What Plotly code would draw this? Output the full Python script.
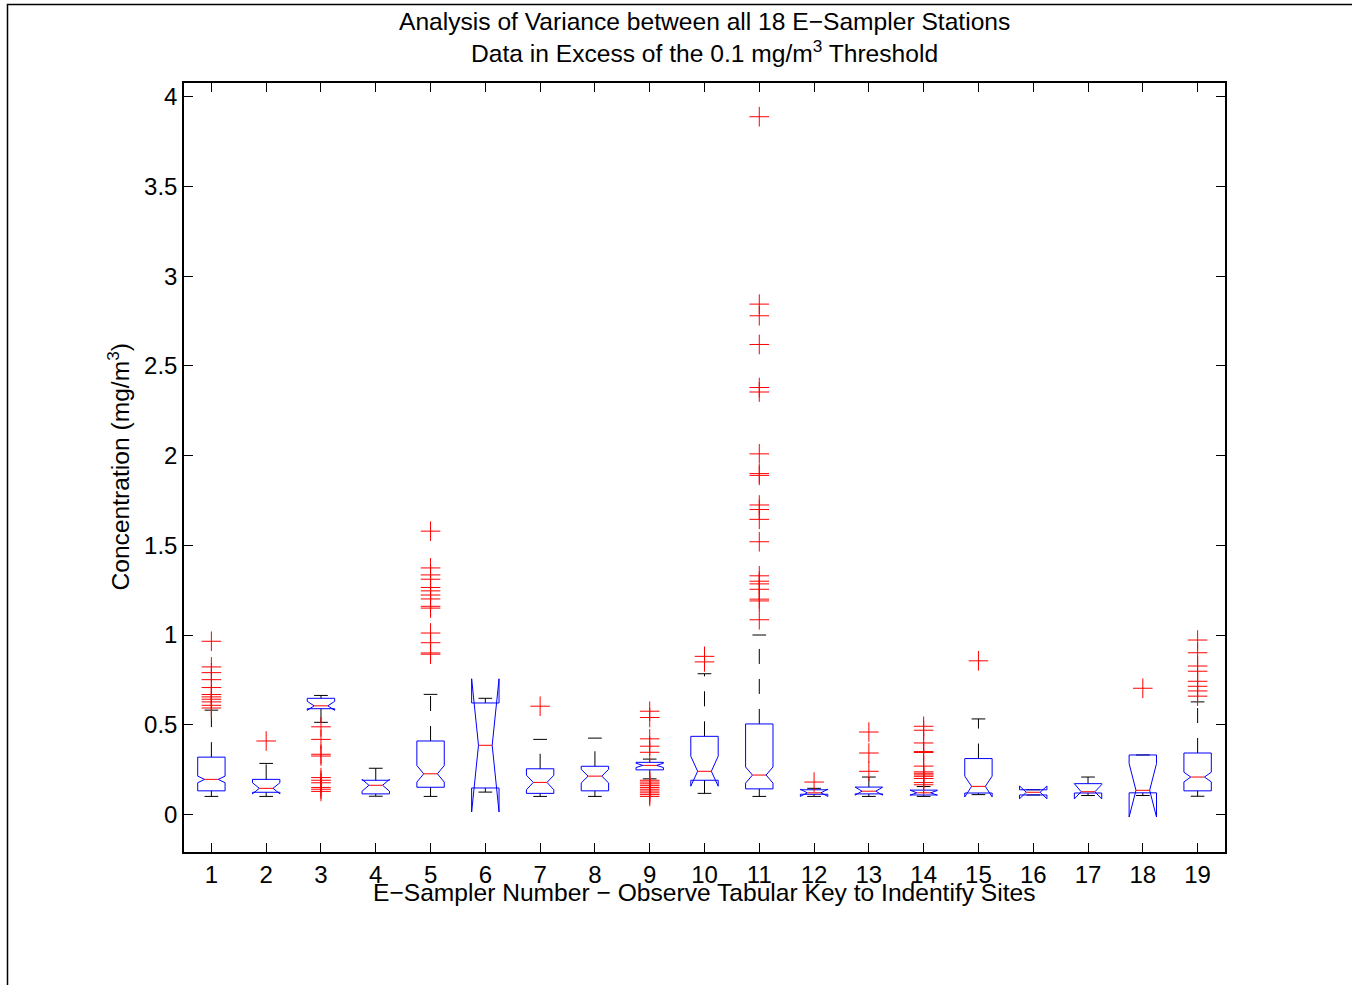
import plotly.graph_objects as go

# ---- Data: notched box-plot statistics per E-Sampler station (mg/m^3) ----
stations = list(range(1, 20))
q1 = [0.131, 0.123, 0.589, 0.114, 0.151, 0.147, 0.117, 0.131, 0.248, 0.190,
      0.142, 0.112, 0.114, 0.108, 0.119, 0.108, 0.119, 0.120, 0.131]
median = [0.195, 0.145, 0.605, 0.162, 0.226, 0.385, 0.178, 0.213, 0.273, 0.240,
          0.219, 0.120, 0.129, 0.120, 0.156, 0.123, 0.126, 0.134, 0.208]
q3 = [0.319, 0.195, 0.647, 0.190, 0.409, 0.621, 0.254, 0.268, 0.290, 0.435,
      0.504, 0.137, 0.152, 0.135, 0.311, 0.137, 0.171, 0.331, 0.342]
notch_lo = [0.176, 0.114, 0.580, 0.129, 0.180, 0.013, 0.137, 0.175, 0.261, 0.157,
            0.174, 0.100, 0.107, 0.107, 0.097, 0.087, 0.086, -0.015, 0.181]
notch_hi = [0.213, 0.176, 0.630, 0.195, 0.272, 0.756, 0.218, 0.251, 0.285, 0.324,
            0.264, 0.140, 0.151, 0.133, 0.213, 0.158, 0.166, 0.283, 0.235]
whisker_lo = [0.100, 0.100, 0.513, 0.101, 0.100, 0.124, 0.100, 0.100, 0.198, 0.117,
              0.100, 0.100, 0.100, 0.100, 0.110, 0.108, 0.105, 0.105, 0.101]
whisker_hi = [0.581, 0.284, 0.663, 0.257, 0.669, 0.647, 0.418, 0.425, 0.308, 0.784,
              1.000, 0.145, 0.208, 0.155, 0.532, 0.137, 0.208, 0.331, 0.627]
outliers_1 = [0.965, 0.822, 0.790, 0.751, 0.707, 0.668, 0.655, 0.642, 0.627, 0.608, 0.593]
outliers_2 = [0.409]
outliers_3 = [0.488, 0.418, 0.335, 0.325, 0.205, 0.190, 0.176, 0.150, 0.140, 0.128]
outliers_4 = []
outliers_5 = [1.579, 1.374, 1.335, 1.311, 1.265, 1.246, 1.223, 1.201, 1.160, 1.150,
              1.011, 0.957, 0.900, 0.893]
outliers_6 = []
outliers_7 = [0.603]
outliers_8 = []
outliers_9 = [0.575, 0.540, 0.421, 0.380, 0.346, 0.190, 0.180, 0.170, 0.160, 0.150,
              0.140, 0.130, 0.120, 0.110, 0.100]
outliers_10 = [0.881, 0.850]
outliers_11 = [3.890, 2.845, 2.780, 2.620, 2.380, 2.355, 2.010, 1.900, 1.890, 1.725,
               1.700, 1.645, 1.520, 1.330, 1.300, 1.285, 1.255, 1.200, 1.190, 1.085]
outliers_12 = [0.180]
outliers_13 = [0.459, 0.342, 0.240]
outliers_14 = [0.491, 0.469, 0.398, 0.350, 0.345, 0.269, 0.237, 0.229, 0.220, 0.212,
               0.200, 0.177, 0.165]
outliers_15 = [0.856]
outliers_16 = []
outliers_17 = []
outliers_18 = [0.703]
outliers_19 = [0.972, 0.901, 0.827, 0.798, 0.742, 0.714, 0.688, 0.659]
outliers = [outliers_1, outliers_2, outliers_3, outliers_4, outliers_5, outliers_6,
            outliers_7, outliers_8, outliers_9, outliers_10, outliers_11, outliers_12,
            outliers_13, outliers_14, outliers_15, outliers_16, outliers_17,
            outliers_18, outliers_19]

x_ticks = stations
y_ticks = [0, 0.5, 1, 1.5, 2, 2.5, 3, 3.5, 4]
y_ticktext = ["0", "0.5", "1", "1.5", "2", "2.5", "3", "3.5", "4"]

# ---- Geometry of the boxes (data units along x) ----
HALF_W = 0.25      # half box width
NOTCH_W = 0.125    # half width at the notch waist
CAP_W = 0.125      # half width of whisker caps

FONT = "Liberation Sans, Arial, Helvetica, sans-serif"
FS = 24          # tick labels
FS_TITLE = 24.6  # titles and axis labels

wx, wy = [], []      # dashed whiskers
cx, cy = [], []      # whisker caps
bx, by = [], []      # notched box outlines
mx, my = [], []      # medians
ox, oy = [], []      # outlier crosses

for i, s in enumerate(stations):
    L, R = s - HALF_W, s + HALF_W
    iL, iR = s - NOTCH_W, s + NOTCH_W
    # whiskers drawn from the box edge outward
    wx += [s, s, None, s, s, None]
    wy += [q3[i], whisker_hi[i], None, q1[i], whisker_lo[i], None]
    cx += [s - CAP_W, s + CAP_W, None, s - CAP_W, s + CAP_W, None]
    cy += [whisker_hi[i], whisker_hi[i], None, whisker_lo[i], whisker_lo[i], None]
    bx += [L, L, iL, L, L, R, R, iR, R, R, L, None]
    by += [q1[i], notch_lo[i], median[i], notch_hi[i], q3[i], q3[i],
           notch_hi[i], median[i], notch_lo[i], q1[i], q1[i], None]
    mx += [iL, iR, None]
    my += [median[i], median[i], None]
    ox += [s] * len(outliers[i])
    oy += outliers[i]

fig = go.Figure()
fig.add_trace(go.Scatter(x=wx, y=wy, mode="lines", hoverinfo="skip",
                         line=dict(color="black", width=1, dash="15px,15px")))
fig.add_trace(go.Scatter(x=cx, y=cy, mode="lines", hoverinfo="skip",
                         line=dict(color="black", width=1)))
fig.add_trace(go.Scatter(x=bx, y=by, mode="lines", hoverinfo="skip",
                         line=dict(color="#0000ff", width=1)))
fig.add_trace(go.Scatter(x=mx, y=my, mode="lines", hoverinfo="skip",
                         line=dict(color="#ff0000", width=1)))
fig.add_trace(go.Scatter(x=ox, y=oy, mode="markers",
                         marker=dict(symbol="cross-thin", size=14,
                                     line=dict(color="#ff0000", width=1))))

W, H = 1352, 985
L_M, R_M, T_M, B_M = 184, 127, 83, 133
plot_w = W - L_M - R_M
plot_h = H - T_M - B_M


def px_to_paper_y(py):
    return (H - B_M - py) / plot_h


def px_to_paper_x(px):
    return (px - L_M) / plot_w


axis_common = dict(showgrid=False, zeroline=False, showline=True, linecolor="black",
                   linewidth=1.5, mirror="ticks", ticks="inside", ticklen=9,
                   tickwidth=1, tickcolor="black",
                   tickfont=dict(family=FONT, size=FS, color="black"))

fig.update_layout(
    width=W, height=H,
    margin=dict(l=L_M, r=R_M, t=T_M, b=B_M),
    paper_bgcolor="white", plot_bgcolor="white",
    showlegend=False,
    xaxis=dict(range=[0.5, 19.5], tickvals=x_ticks,
               ticktext=[str(v) for v in x_ticks], **axis_common),
    yaxis=dict(range=[-0.21, 4.078], tickvals=y_ticks, ticktext=y_ticktext,
               **axis_common),
    annotations=[
        dict(text="Analysis of Variance between all 18 E\u2212Sampler Stations",
             xref="paper", yref="paper", x=0.5, y=px_to_paper_y(21),
             xanchor="center", yanchor="middle", showarrow=False,
             font=dict(family=FONT, size=FS_TITLE, color="black")),
        dict(text="Data in Excess of the 0.1 mg/m<sup>3</sup> Threshold",
             xref="paper", yref="paper", x=0.5, y=px_to_paper_y(52),
             xanchor="center", yanchor="middle", showarrow=False,
             font=dict(family=FONT, size=FS_TITLE, color="black")),
        dict(text="E\u2212Sampler Number \u2212 Observe Tabular Key to Indentify Sites",
             xref="paper", yref="paper", x=0.5, y=px_to_paper_y(892),
             xanchor="center", yanchor="middle", showarrow=False,
             font=dict(family=FONT, size=FS_TITLE, color="black")),
        dict(text="Concentration (mg/m<sup>3</sup>)",
             xref="paper", yref="paper", x=px_to_paper_x(118), y=0.5,
             xanchor="center", yanchor="middle", showarrow=False, textangle=-90,
             font=dict(family=FONT, size=FS_TITLE, color="black")),
    ],
    shapes=[
        dict(type="rect", xref="paper", yref="paper", layer="above",
             x0=px_to_paper_x(7.5), x1=px_to_paper_x(W + 20),
             y0=px_to_paper_y(H + 20), y1=px_to_paper_y(4.5),
             line=dict(color="black", width=1.5)),
    ],
)

fig.write_html("out.html")
